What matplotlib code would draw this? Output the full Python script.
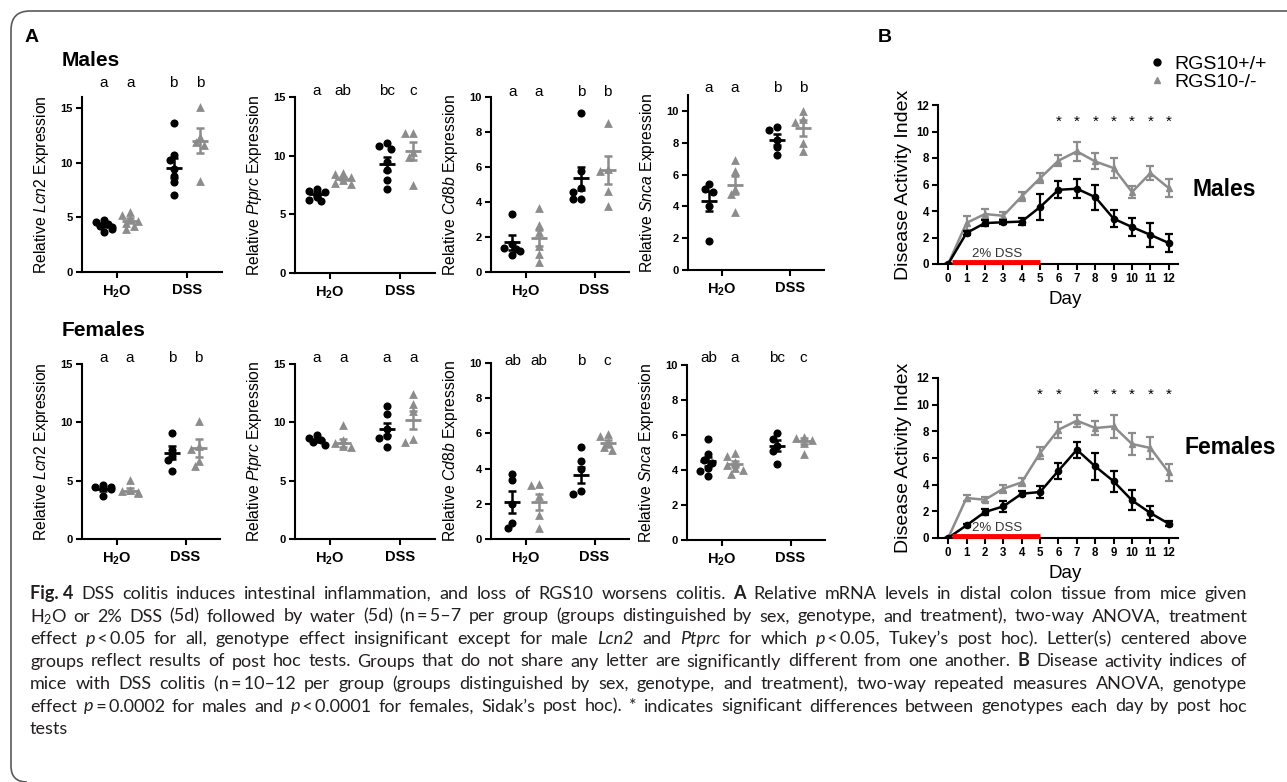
import numpy as np
import matplotlib
matplotlib.use("Agg")
import matplotlib.pyplot as plt
from matplotlib.lines import Line2D
from matplotlib.path import Path
from matplotlib.patches import PathPatch

plt.rcParams['font.family'] = ['Liberation Sans', 'DejaVu Sans']
plt.rcParams['mathtext.fontset'] = 'custom'
plt.rcParams['mathtext.rm'] = 'Liberation Sans'
plt.rcParams['mathtext.it'] = 'Liberation Sans:italic'
plt.rcParams['mathtext.bf'] = 'Liberation Sans:bold'

# ---------------- panel A data ----------------
# order in every list: RGS10+/+ H2O, RGS10-/- H2O, RGS10+/+ DSS, RGS10-/- DSS
treatments = ["H2O", "DSS"]

m_lcn2 = [[4.8, 4.6, 4.4, 4.2, 4.1, 3.9, 3.7],
          [5.5, 5.2, 4.9, 4.7, 4.5, 4.2, 3.9],
          [13.6, 10.7, 10.2, 9.4, 8.8, 8.2, 7.0],
          [15.1, 12.3, 11.9, 11.6, 8.3]]
m_lcn2_mean = [4.3, 4.7, 9.5, 12.0]
m_lcn2_sem = [0.15, 0.2, 0.95, 1.15]
m_lcn2_letters = ["a", "a", "b", "b"]

m_ptprc = [[7.2, 7.0, 6.9, 6.5, 6.2, 6.1],
           [8.5, 8.4, 8.2, 7.9, 7.7, 7.6],
           [11.05, 10.8, 10.6, 9.5, 8.8, 7.9, 7.2],
           [11.95, 11.9, 10.3, 9.9, 7.5]]
m_ptprc_mean = [6.75, 8.05, 9.3, 10.4]
m_ptprc_sem = [0.18, 0.15, 0.62, 0.8]
m_ptprc_letters = ["a", "ab", "bc", "c"]

m_cd8b = [[3.3, 1.6, 1.4, 1.3, 1.2, 0.95],
          [3.65, 2.7, 2.3, 1.5, 1.05, 0.6],
          [9.1, 5.8, 4.8, 4.6, 4.2, 4.2],
          [8.5, 5.9, 5.8, 4.65, 3.8]]
m_cd8b_mean = [1.7, 1.95, 5.35, 5.85]
m_cd8b_sem = [0.42, 0.45, 0.65, 0.8]
m_cd8b_letters = ["a", "a", "b", "b"]

m_snca = [[5.4, 5.1, 4.9, 4.05, 1.85],
          [6.9, 6.2, 5.1, 4.8, 3.65],
          [9.0, 8.8, 8.2, 7.75, 7.2],
          [10.0, 9.5, 9.3, 8.0, 7.5]]
m_snca_mean = [4.35, 5.35, 8.2, 8.9]
m_snca_sem = [0.63, 0.55, 0.35, 0.5]
m_snca_letters = ["a", "a", "b", "b"]

f_lcn2 = [[4.65, 4.5, 4.45, 4.3, 3.65],
          [5.1, 4.2, 4.1, 4.0, 3.95],
          [9.1, 7.65, 7.15, 6.8, 5.8],
          [10.15, 7.95, 7.7, 6.7, 6.25]]
f_lcn2_mean = [4.3, 4.15, 7.4, 7.8]
f_lcn2_sem = [0.18, 0.2, 0.55, 0.75]
f_lcn2_letters = ["a", "a", "b", "b"]

f_ptprc = [[8.95, 8.7, 8.5, 8.3, 8.1],
           [9.8, 8.5, 8.2, 7.95, 7.9],
           [11.4, 10.7, 9.4, 8.8, 8.7, 7.85],
           [12.4, 11.6, 11.0, 8.55, 8.35]]
f_ptprc_mean = [8.45, 8.25, 9.45, 10.2]
f_ptprc_sem = [0.15, 0.35, 0.5, 0.75]
f_ptprc_letters = ["a", "a", "a", "a"]

f_cd8b = [[3.7, 3.35, 2.0, 0.9, 0.6],
          [3.1, 3.05, 2.45, 1.35, 0.6],
          [5.2, 4.45, 3.95, 2.7, 2.55],
          [5.95, 5.85, 5.5, 5.2, 5.05]]
f_cd8b_mean = [2.1, 2.1, 3.65, 5.45]
f_cd8b_sem = [0.62, 0.45, 0.45, 0.2]
f_cd8b_letters = ["ab", "ab", "b", "c"]

f_snca = [[5.75, 4.9, 4.6, 4.4, 4.1, 3.95, 3.65],
          [5.0, 4.8, 4.45, 4.3, 4.1, 4.0, 3.8],
          [6.1, 5.8, 5.35, 5.1, 4.35],
          [5.9, 5.85, 5.7, 5.55, 4.9]]
f_snca_mean = [4.5, 4.35, 5.4, 5.65]
f_snca_sem = [0.25, 0.18, 0.3, 0.18]
f_snca_letters = ["ab", "a", "bc", "c"]

# ---------------- panel B data ----------------
days = list(range(13))
male_wt = [0, 2.34, 3.09, 3.15, 3.2, 4.3, 5.6, 5.68, 5.05, 3.42, 2.79, 2.2, 1.58]
male_wt_sem = [0, 0.15, 0.2, 0.15, 0.25, 0.95, 0.65, 0.7, 0.95, 0.65, 0.7, 0.9, 0.7]
male_ko = [0, 3.1, 3.77, 3.64, 5.1, 6.48, 7.8, 8.5, 7.74, 7.24, 5.43, 6.86, 5.73]
male_ko_sem = [0, 0.5, 0.4, 0.25, 0.35, 0.4, 0.4, 0.7, 0.6, 0.75, 0.45, 0.5, 0.65]
male_star_days = [6, 7, 8, 9, 10, 11, 12]

female_wt = [0, 0.95, 1.95, 2.37, 3.32, 3.45, 5.05, 6.62, 5.37, 4.25, 2.82, 1.87, 1.07]
female_wt_sem = [0, 0.1, 0.25, 0.4, 0.2, 0.45, 0.6, 0.6, 1.0, 0.8, 0.75, 0.5, 0.2]
female_ko = [0, 3.0, 2.87, 3.7, 4.17, 6.37, 8.12, 8.8, 8.25, 8.37, 7.05, 6.75, 4.92]
female_ko_sem = [0, 0.2, 0.2, 0.3, 0.3, 0.45, 0.6, 0.45, 0.55, 0.85, 0.85, 0.8, 0.65]
female_star_days = [5, 6, 8, 9, 10, 11, 12]

dss_days = [0.2, 5.0]
genotypes = ["RGS10+/+", "RGS10-/-"]

# ---------------- caption ----------------
caption = [
    [("Fig.\u00a04", "b"), (" DSS colitis induces intestinal inflammation, and loss of RGS10 worsens colitis. ", "r"),
     ("A", "b"), (" Relative mRNA levels in distal colon tissue from mice given", "r")],
    [("H", "r"), ("2", "s"), ("O or 2% DSS (5d) followed by water (5d) (n\u2009=\u20095–7 per group (groups distinguished by sex, "
                              "genotype, and treatment), two-way ANOVA, treatment", "r")],
    [("effect ", "r"), ("p", "i"), ("\u2009<\u20090.05 for all, genotype effect insignificant except for male ", "r"),
     ("Lcn2", "i"), (" and ", "r"), ("Ptprc", "i"), (" for which ", "r"), ("p", "i"),
     ("\u2009<\u20090.05, Tukey’s post hoc). Letter(s) centered above", "r")],
    [("groups reflect results of post hoc tests. Groups that do not share any letter are significantly different "
      "from one another. ", "r"), ("B", "b"), (" Disease activity indices of", "r")],
    [("mice with DSS colitis (n\u2009=\u200910–12 per group (groups distinguished by sex, genotype, and treatment), "
      "two-way repeated measures ANOVA, genotype", "r")],
    [("effect ", "r"), ("p", "i"), ("\u2009=\u20090.0002 for males and ", "r"), ("p", "i"),
     ("\u2009<\u20090.0001 for females, Sidak’s post hoc). * indicates significant differences between genotypes each day "
      "by post hoc", "r")],
    [("tests", "r")],
]

BLACK = "#000000"
GREY = "#8c8c8c"
W, H = 1287, 782

fig = plt.figure(figsize=(W / 100, H / 100), dpi=100)


def px_axes(box):
    left, top, right, bottom = box
    return fig.add_axes([left / W, 1 - bottom / H, (right - left) / W, (bottom - top) / H])


def swarm(vals, px_y, diam=5.5, step=4.0):
    # horizontal offsets (px) so that markers do not sit right on top of each other
    offs = np.zeros(len(vals))
    done = []
    for i in np.argsort(vals)[::-1]:
        x = 0.0
        for c in [0, -1, 1, -2, 2]:
            x = c * step
            if all(np.hypot(x - offs[j], (vals[i] - vals[j]) * px_y) >= diam for j in done):
                break
        offs[i] = x
        done.append(i)
    return offs


def style_axes(ax):
    for s in ["top", "right"]:
        ax.spines[s].set_visible(False)
    for s in ["left", "bottom"]:
        ax.spines[s].set_linewidth(1.5)
    ax.tick_params(direction="out", length=4, width=1.5, pad=2.5)


group_x = [-0.19, 0.19, 0.81, 1.19]


def dot_panel(box, gene, pts, means, sems, letters, ymax, ystep, letter_px):
    left, top, right, bottom = box
    ax = px_axes(box)
    ax.set_xlim(-0.5, 1.5)
    ax.set_ylim(0, ymax)
    px_x = (right - left) / 2.0
    px_y = (bottom - top) / ymax
    for k in range(4):
        colour = BLACK if k % 2 == 0 else GREY
        vals = np.array(pts[k])
        xo = swarm(vals, px_y) / px_x
        if k % 2 == 0:
            ax.scatter(group_x[k] + xo, vals, s=34, marker="o", color=colour, lw=0, zorder=3)
        else:
            ax.scatter(group_x[k] + xo, vals, s=40, marker="^", color=colour, lw=0, zorder=3)
        ax.plot([group_x[k] - 0.115, group_x[k] + 0.115], [means[k], means[k]], color=colour, lw=2,
                solid_capstyle="butt", zorder=4)
        ax.errorbar(group_x[k], means[k], yerr=sems[k], fmt="none", ecolor=colour, capsize=3.2,
                    capthick=1.8, elinewidth=1.8, zorder=4)
        ax.text(group_x[k], (bottom - letter_px) / (bottom - top), letters[k],
                transform=ax.get_xaxis_transform(), ha="center", va="baseline", fontsize=11)
    style_axes(ax)
    ax.set_xticks([0, 1])
    ax.set_xticklabels([r"$\mathbf{H_2O}$", treatments[1]], fontsize=10.5, fontweight="bold")
    ax.set_yticks(np.arange(0, ymax + 0.01, ystep))
    for lab in ax.get_yticklabels():
        lab.set_fontweight("bold")
        lab.set_fontsize(8)
    ax.tick_params(axis="x", pad=4)
    ax.set_ylabel("Relative $\\mathit{" + gene + "}$ Expression", fontsize=11.3)
    ax.yaxis.set_label_coords(-31 / (right - left), 0.5)
    return ax


def dai_panel(box, wt, wt_sem, ko, ko_sem, star_days):
    left, top, right, bottom = box
    ax = px_axes(box)
    ax.errorbar(days, ko, yerr=ko_sem, color=GREY, marker="^", ms=5, lw=1.8, capsize=2.8,
                capthick=1.6, elinewidth=1.6, zorder=3)
    ax.errorbar(days, wt, yerr=wt_sem, color=BLACK, marker="o", ms=4.5, lw=1.8, capsize=2.8,
                capthick=1.6, elinewidth=1.6, zorder=4)
    ax.plot(dss_days, [0.15, 0.15], color="#ff0000", lw=3.5, solid_capstyle="butt", clip_on=False, zorder=6)
    ax.text(2.65, 0.75, "2% DSS", ha="center", va="center", fontsize=9.5, color="#333333")
    for d in star_days:
        ax.text(d, 10.45, "*", ha="center", va="baseline", fontsize=11)
    ax.set_xlim(-0.55, 12.5)
    ax.set_ylim(0, 12)
    style_axes(ax)
    ax.set_xticks(days)
    ax.set_yticks(range(0, 13, 2))
    for lab in ax.get_xticklabels() + ax.get_yticklabels():
        lab.set_fontweight("bold")
        lab.set_fontsize(8.3)
    ax.set_xlabel("Day", fontsize=13.5)
    ax.xaxis.set_label_coords(0.53, -27 / (bottom - top))
    ax.set_ylabel("Disease Activity Index", fontsize=14)
    ax.yaxis.set_label_coords(-26 / (right - left), 0.5)
    return ax


# ---------------- panel A ----------------
dot_panel((82, 97, 222, 272), "Lcn2", m_lcn2, m_lcn2_mean, m_lcn2_sem, m_lcn2_letters, 16, 5, 87)
dot_panel((295, 97, 435, 273), "Ptprc", m_ptprc, m_ptprc_mean, m_ptprc_sem, m_ptprc_letters, 15, 5, 95)
dot_panel((491, 97, 629, 272), "Cd8b", m_cd8b, m_cd8b_mean, m_cd8b_sem, m_cd8b_letters, 10, 2, 96)
dot_panel((688, 95, 824, 270), "Snca", m_snca, m_snca_mean, m_snca_sem, m_snca_letters, 11, 2, 92)

dot_panel((82, 364, 220, 539), "Lcn2", f_lcn2, f_lcn2_mean, f_lcn2_sem, f_lcn2_letters, 15, 5, 362)
dot_panel((295, 364, 435, 539), "Ptprc", f_ptprc, f_ptprc_mean, f_ptprc_sem, f_ptprc_letters, 15, 5, 362)
dot_panel((491, 363, 629, 539), "Cd8b", f_cd8b, f_cd8b_mean, f_cd8b_sem, f_cd8b_letters, 10, 2, 365)
dot_panel((687, 365, 825, 540), "Snca", f_snca, f_snca_mean, f_snca_sem, f_snca_letters, 10, 2, 362)

# ---------------- panel B ----------------
dai_panel((938, 105, 1178, 264), male_wt, male_wt_sem, male_ko, male_ko_sem, male_star_days)
dai_panel((938, 378, 1178, 538), female_wt, female_wt_sem, female_ko, female_ko_sem, female_star_days)

handles = [Line2D([], [], color=BLACK, marker="o", ls="none", ms=5),
           Line2D([], [], color=GREY, marker="^", ls="none", ms=5)]
fig.legend(handles, genotypes, loc="upper left", bbox_to_anchor=(1149 / W, 1 - 55 / H), frameon=False,
           fontsize=14, handlelength=0.8, handletextpad=0.53, labelspacing=0.05, borderpad=0,
           borderaxespad=0)

# titles
fig.text(25 / W, 1 - 38 / H, "A", fontsize=14, fontweight="bold", va="center")
fig.text(878 / W, 1 - 38 / H, "B", fontsize=14, fontweight="bold", va="center")
fig.text(62 / W, 1 - 60 / H, "Males", fontsize=15, fontweight="bold", va="center")
fig.text(62 / W, 1 - 331 / H, "Females", fontsize=15, fontweight="bold", va="center")
fig.text(1193 / W, 1 - 190 / H, "Males", fontsize=16.5, fontweight="bold", va="center")
fig.text(1185 / W, 1 - 447 / H, "Females", fontsize=16.5, fontweight="bold", va="center")

# ---------------- caption (justified) ----------------
CAP_FS = 13
CAP_FONT = ["Lato", "DejaVu Sans"]
renderer = fig.canvas.get_renderer()


def caption_line(y_px, runs, justify=True, x0=30, x1=1247):
    toks = []
    for s, style in runs:
        for i, word in enumerate(s.split(" ")):
            if i > 0 and toks and toks[-1] is not None:
                toks.append(None)
            if word:
                toks.append((word, style))
    while toks and toks[-1] is None:
        toks.pop()
    placed = []
    for tok in toks:
        if tok is None:
            placed.append(None)
            continue
        word, style = tok
        kw = dict(fontsize=CAP_FS, va="baseline", ha="left", color="#231f20", family=CAP_FONT)
        dy = 0
        if style == "b":
            kw["fontweight"] = "bold"
        elif style == "i":
            kw["fontstyle"] = "italic"
        elif style == "s":
            kw["fontsize"] = CAP_FS * 0.7
            dy = 3
        t = fig.text(0, 0, word, **kw)
        placed.append((t, t.get_window_extent(renderer).width, dy))
    space = 0.25 * CAP_FS * 100 / 72
    n_gaps = sum(1 for p in placed if p is None)
    total = sum(p[1] for p in placed if p is not None)
    gap = space
    if justify and n_gaps:
        gap = max((x1 - x0 - total) / n_gaps, 0.5 * space)
    x = x0
    for p in placed:
        if p is None:
            x += gap
            continue
        t, w, dy = p
        t.set_position((x / W, 1 - (y_px + dy) / H))
        x += w


for i, line in enumerate(caption):
    caption_line(599 + 22.5 * i, line, justify=(i < len(caption) - 1))

# frame of the figure box
verts = [(W, 11), (30, 11), (11, 11), (11, 30), (11, 766), (11, 782), (27, 782)]
codes = [Path.MOVETO, Path.LINETO, Path.CURVE3, Path.CURVE3, Path.LINETO, Path.CURVE3, Path.CURVE3]
frame = Path([(x / W, 1 - y / H) for x, y in verts], codes)
fig.add_artist(PathPatch(frame, transform=fig.transFigure, fill=False, edgecolor="#5a5a5a", lw=1.2))

fig.savefig("out.png", dpi=100)
